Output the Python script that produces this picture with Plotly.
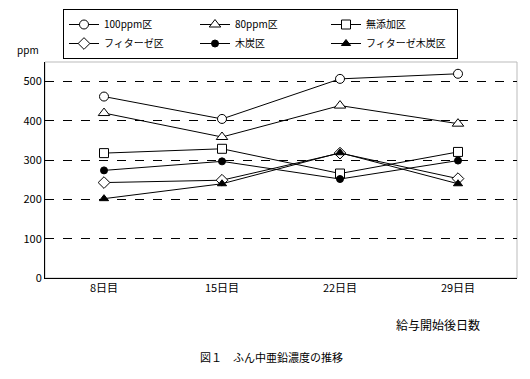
import plotly.graph_objects as go

days = ["8日目", "15日目", "22日目", "29日目"]
series_names = ["100ppm区", "80ppm区", "無添加区", "フィターゼ区", "木炭区", "フィターゼ木炭区"]
v_100ppm = [462, 405, 507, 520]
v_80ppm = [420, 359, 439, 393]
v_none = [318, 329, 266, 321]
v_phytase = [243, 249, 318, 253]
v_charcoal = [274, 297, 252, 299]
v_phy_char = [202, 240, 319, 240]
y_ticks = [0, 100, 200, 300, 400, 500]

values = [v_100ppm, v_80ppm, v_none, v_phytase, v_charcoal, v_phy_char]
styles = [
    dict(symbol="circle", size=9, color="white", line=dict(color="black", width=1)),
    dict(symbol="triangle-up", size=10, color="white", line=dict(color="black", width=1)),
    dict(symbol="square", size=9, color="white", line=dict(color="black", width=1)),
    dict(symbol="diamond", size=9, color="white", line=dict(color="black", width=1)),
    dict(symbol="circle", size=7, color="black", line=dict(color="black", width=1)),
    dict(symbol="triangle-up", size=8, color="black", line=dict(color="black", width=1)),
]

FONT = "Noto Sans CJK JP, DejaVu Sans Mono, sans-serif"
W, H = 522, 371  # page body has an 8px default margin

fig = go.Figure()
for name, vals, mk in zip(series_names, values, styles):
    fig.add_trace(go.Scatter(
        x=days, y=vals, name=name, mode="lines+markers",
        line=dict(color="black", width=1), marker=mk, cliponaxis=False,
    ))

fig.update_layout(
    width=W, height=H,
    margin=dict(l=37, r=13, t=54, b=101, autoexpand=False),
    paper_bgcolor="white", plot_bgcolor="white",
    font=dict(family=FONT, size=11, color="black"),
    showlegend=True,
    legend=dict(
        orientation="h", xref="container", yref="container",
        x=55 / W, y=1 - 1 / H, xanchor="left", yanchor="top",
        bordercolor="black", borderwidth=1, bgcolor="white",
        entrywidth=86, entrywidthmode="pixels",
        font=dict(family=FONT, size=10), tracegroupgap=0,
        itemwidth=30,
    ),
    xaxis=dict(
        type="category", showgrid=False, showline=True, linecolor="black",
        linewidth=1, ticks="", tickfont=dict(size=11), zeroline=False,
        range=[-0.5, 3.5],
    ),
    yaxis=dict(
        range=[0, 550], tickvals=y_ticks, showline=True, linecolor="black",
        linewidth=1, showgrid=True, gridcolor="black", griddash="dash",
        gridwidth=1, ticks="", zeroline=False, tickfont=dict(size=11),
        ticksuffix="  ",
    ),
    shapes=[dict(type="rect", xref="paper", yref="paper", x0=0, x1=1, y0=0, y1=1,
                 line=dict(color="#bbbbbb", width=1), layer="below")],
    annotations=[
        dict(text="ppm", xref="paper", yref="paper", x=-0.036, y=1.015,
             showarrow=False, xanchor="center", yanchor="bottom", font=dict(size=10)),
        dict(text="給与開始後日数", xref="paper", yref="paper", x=0.925, y=-0.165,
             showarrow=False, xanchor="right", yanchor="top", font=dict(size=12)),
        dict(text="図１　ふん中亜鉛濃度の推移", xref="paper", yref="paper", x=0.48, y=-0.32,
             showarrow=False, xanchor="center", yanchor="top", font=dict(size=11)),
    ],
)

fig.write_html("out.html")
